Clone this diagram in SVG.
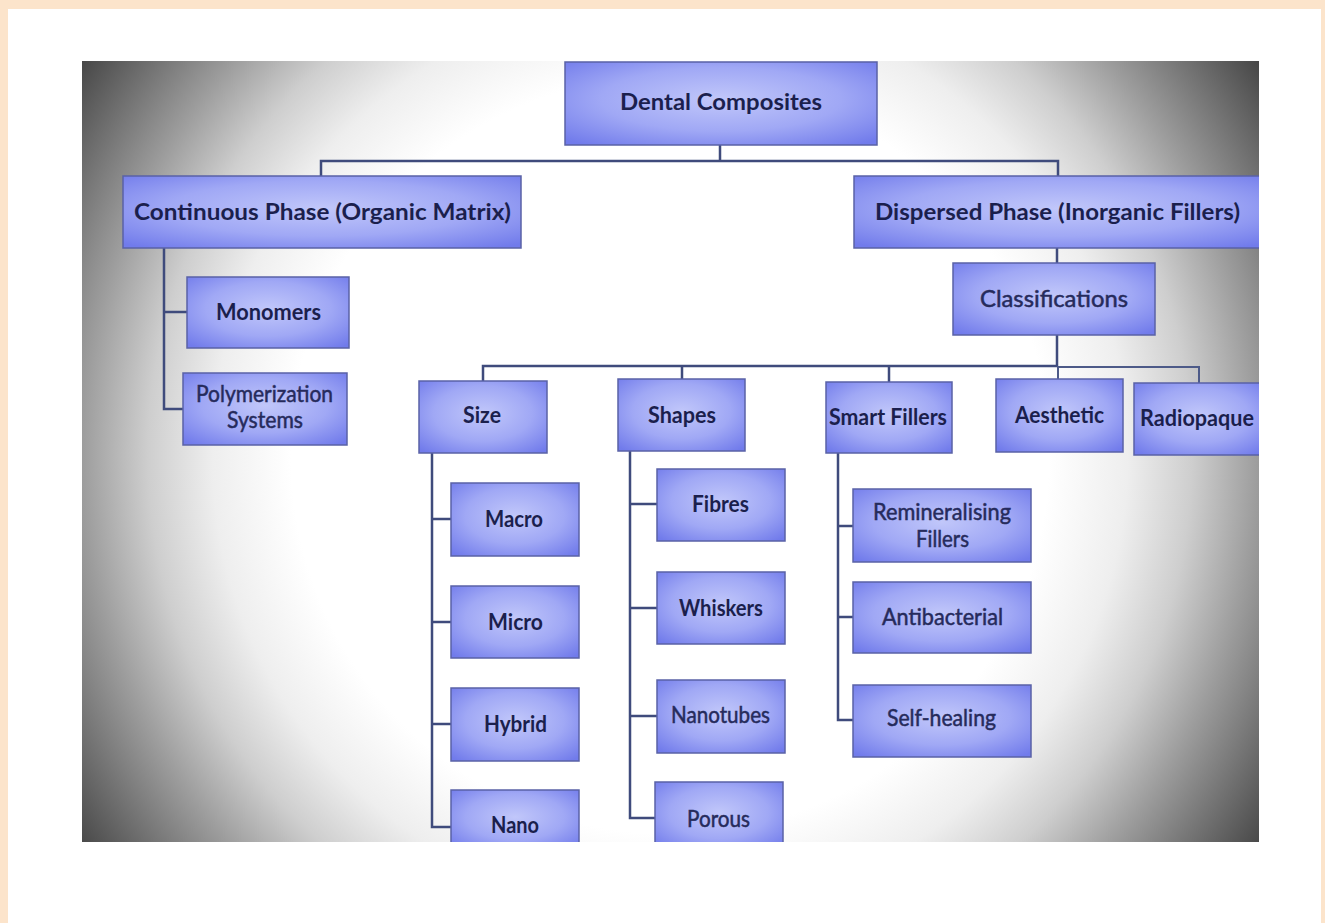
<svg xmlns="http://www.w3.org/2000/svg" width="1325" height="923" viewBox="0 0 1325 923">
<defs>
<radialGradient id="vig" gradientUnits="userSpaceOnUse" cx="670" cy="455" r="715">
<stop offset="0" stop-color="#ffffff"/>
<stop offset="0.53" stop-color="#ffffff"/>
<stop offset="0.64" stop-color="#eeeeee"/>
<stop offset="0.73" stop-color="#cecece"/>
<stop offset="0.82" stop-color="#9e9e9e"/>
<stop offset="1" stop-color="#424242"/>
</radialGradient>
<radialGradient id="boxg" cx="0.5" cy="0.45" r="0.7">
<stop offset="0" stop-color="#c1c7fa"/>
<stop offset="0.55" stop-color="#a0a8f5"/>
<stop offset="1" stop-color="#717beb"/>
</radialGradient>
<clipPath id="photo"><rect x="82" y="61" width="1177" height="781"/></clipPath>
<style>
.box{fill:url(#boxg);stroke:#5a62a6;stroke-width:1.5}
.t{font-family:Lato,"Open Sans","Liberation Sans",sans-serif;font-size:23px;font-weight:700;fill:#1b1f4d;text-anchor:middle}
.r{font-weight:400;fill:#262b5c;stroke:#262b5c;stroke-width:0.5}
.ln{stroke:#3f4b7c;stroke-width:2.5;fill:none}
.lt{stroke:#4d5a88;stroke-width:2;fill:none}
</style>
</defs>
<rect x="0" y="0" width="1325" height="923" fill="#fce4cb"/>
<rect x="8" y="9" width="1313" height="920" fill="#ffffff"/>
<rect x="82" y="61" width="1177" height="781" fill="url(#vig)"/>
<g clip-path="url(#photo)">
<g id="connectors">
<path class="ln" d="M720 145V161M321 177V161H1058V177"/>
<path class="ln" d="M164 248V409H183M164 312H187"/>
<path class="ln" d="M1057 248V263M1057 335V366"/>
<path class="ln" d="M483 381V366H1058M682 366V379M889 366V382"/>
<path class="lt" d="M1058 366V379M1058 367H1199V383"/>
<path class="ln" d="M432 453V827H451M432 519H451M432 622H451M432 724H451"/>
<path class="ln" d="M630 451V818H655M630 504H657M630 608H657M630 716H657"/>
<path class="ln" d="M838 453V720H853M838 526H853M838 617H853"/>
</g>
<g id="n-dental"><rect class="box" x="565" y="62" width="312" height="83"/><text class="t" x="721" y="110" textLength="202" lengthAdjust="spacingAndGlyphs">Dental Composites</text></g>
<g id="n-continuous"><rect class="box" x="123" y="176" width="398" height="72"/><text class="t" x="322.5" y="220" textLength="377" lengthAdjust="spacingAndGlyphs">Continuous Phase (Organic Matrix)</text></g>
<g id="n-dispersed"><rect class="box" x="854" y="176" width="410" height="72"/><text class="t" x="1057.5" y="220" textLength="365" lengthAdjust="spacingAndGlyphs">Dispersed Phase (Inorganic Fillers)</text></g>
<g id="n-monomers"><rect class="box" x="187" y="277" width="162" height="71"/><text class="t" x="268.5" y="320" textLength="105" lengthAdjust="spacingAndGlyphs">Monomers</text></g>
<g id="n-polymerization"><rect class="box" x="183" y="373" width="164" height="72"/><text class="t r" x="264.5" y="402" textLength="137" lengthAdjust="spacingAndGlyphs">Polymerization</text><text class="t r" x="265" y="428" textLength="76" lengthAdjust="spacingAndGlyphs">Systems</text></g>
<g id="n-classifications"><rect class="box" x="953" y="263" width="202" height="72"/><text class="t r" x="1054" y="307" font-size="24" textLength="148" lengthAdjust="spacingAndGlyphs">Classifications</text></g>
<g id="n-size"><rect class="box" x="419" y="381" width="128" height="72"/><text class="t" x="482" y="423" textLength="38" lengthAdjust="spacingAndGlyphs">Size</text></g>
<g id="n-shapes"><rect class="box" x="618" y="379" width="127" height="72"/><text class="t" x="682" y="423" textLength="68" lengthAdjust="spacingAndGlyphs">Shapes</text></g>
<g id="n-smart"><rect class="box" x="826" y="382" width="126" height="71"/><text class="t" x="888" y="425" textLength="118" lengthAdjust="spacingAndGlyphs">Smart Fillers</text></g>
<g id="n-aesthetic"><rect class="box" x="996" y="379" width="127" height="73"/><text class="t" x="1059.5" y="423" textLength="89" lengthAdjust="spacingAndGlyphs">Aesthetic</text></g>
<g id="n-radiopaque"><rect class="box" x="1134" y="383" width="130" height="72"/><text class="t" x="1197" y="426" textLength="114" lengthAdjust="spacingAndGlyphs">Radiopaque</text></g>
<g id="n-macro"><rect class="box" x="451" y="483" width="128" height="73"/><text class="t" x="514" y="527" textLength="58" lengthAdjust="spacingAndGlyphs">Macro</text></g>
<g id="n-micro"><rect class="box" x="451" y="586" width="128" height="72"/><text class="t" x="515.5" y="630" textLength="55" lengthAdjust="spacingAndGlyphs">Micro</text></g>
<g id="n-hybrid"><rect class="box" x="451" y="688" width="128" height="73"/><text class="t" x="515.5" y="732" textLength="63" lengthAdjust="spacingAndGlyphs">Hybrid</text></g>
<g id="n-nano"><rect class="box" x="451" y="790" width="128" height="60"/><text class="t" x="515" y="833" textLength="48" lengthAdjust="spacingAndGlyphs">Nano</text></g>
<g id="n-fibres"><rect class="box" x="657" y="469" width="128" height="72"/><text class="t" x="720.5" y="512" textLength="57" lengthAdjust="spacingAndGlyphs">Fibres</text></g>
<g id="n-whiskers"><rect class="box" x="657" y="572" width="128" height="72"/><text class="t" x="721" y="616" textLength="84" lengthAdjust="spacingAndGlyphs">Whiskers</text></g>
<g id="n-nanotubes"><rect class="box" x="657" y="680" width="128" height="73"/><text class="t r" x="720.5" y="723" textLength="99" lengthAdjust="spacingAndGlyphs">Nanotubes</text></g>
<g id="n-porous"><rect class="box" x="655" y="782" width="128" height="68"/><text class="t r" x="718.5" y="827" textLength="63" lengthAdjust="spacingAndGlyphs">Porous</text></g>
<g id="n-remineralising"><rect class="box" x="853" y="489" width="178" height="73"/><text class="t r" x="942" y="520" textLength="138" lengthAdjust="spacingAndGlyphs">Remineralising</text><text class="t r" x="942.5" y="547" textLength="53" lengthAdjust="spacingAndGlyphs">Fillers</text></g>
<g id="n-antibacterial"><rect class="box" x="853" y="582" width="178" height="71"/><text class="t r" x="942.5" y="625" textLength="121" lengthAdjust="spacingAndGlyphs">Antibacterial</text></g>
<g id="n-selfhealing"><rect class="box" x="853" y="685" width="178" height="72"/><text class="t r" x="941.5" y="726" textLength="109" lengthAdjust="spacingAndGlyphs">Self-healing</text></g>
</g>
</svg>
